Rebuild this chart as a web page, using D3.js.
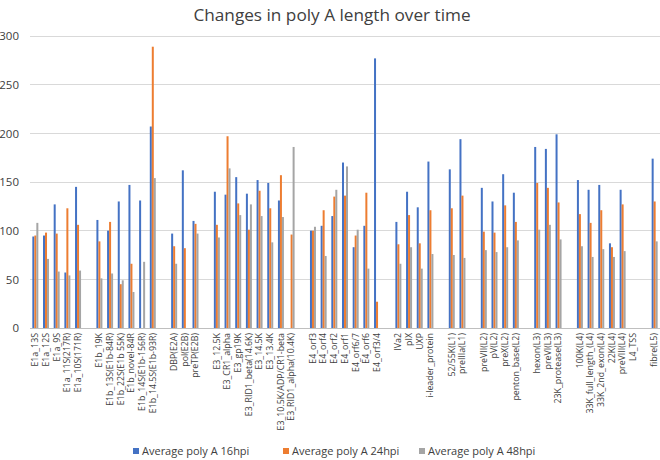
<!DOCTYPE html>
<html><head><meta charset="utf-8">
<script src="https://cdn.jsdelivr.net/npm/d3@7"></script>
<style>body{margin:0;background:#fff}svg{display:block}text{font-family:"Open Sans","Noto Sans",sans-serif}</style>
</head><body><svg id="c" width="660" height="460"></svg>
<script>
const categories = ["E1a_13S","E1a_12S","E1a_9S","E1a_11S(217R)","E1a_10S(171R)","",
"E1b_19K","E1b_13S(E1b-84R)","E1b_22S(E1b 55K)","E1b_novel-84R","E1b_14S(E1b-156R)","E1b_14.5S(E1b-93R)","",
"DBP(E2A)","pol(E2B)","preTP(E2B)","",
"E3_12.5K","E3_CR1_alpha","E3_gp19K","E3_RID1_beta(14.6K)","E3_14.5K","E3_13.4K","E3_10.5K/ADP/CR1-beta","E3_RID1_alpha(10.4K)","",
"E4_orf3","E4_orf4","E4_orf2","E4_orf1","E4_orf6/7","E4_orf6","E4_orf3/4","",
"IVa2","pIX","UXP","i-leader_protein","",
"52/55K(L1)","preIIIa(L1)","",
"preVII(L2)","pV(L2)","preX(L2)","penton_base(L2)","",
"hexon(L3)","preVI(L3)","23K_protease(L3)","",
"100K(L4)","33K_full_length_(L4)","33K_2nd_exon(L4)","22K(L4)","preVIII(L4)","L4_TSS","",
"fibre(L5)"];
const seriesNames = ["Average poly A  16hpi","Average poly A 24hpi","Average poly A 48hpi"];
const hpi16 = [94,95,127,57,145,null, 111,100,130,147,131,207,null, 97,162,110,null,
 140,137,155,138,152,149,131,null,null, 100,105,115,170,83,105,277,null,
 109,140,124,171,null, 163,194,null, 144,130,158,139,null, 186,184,199,null,
 152,142,147,87,142,null,null, 174];
const hpi24 = [95,98,97,123,106,null, 89,109,45,66,null,289,null, 84,82,107,null,
 106,197,128,101,141,123,157,96,null, 100,121,135,136,95,139,27,null,
 86,116,87,121,null, 123,136,null, 99,98,126,109,null, 149,144,129,null,
 117,108,121,83,127,null,null, 130];
const hpi48 = [108,71,58,54,59,null, 51,56,49,37,68,154,null, 66,null,97,null,
 93,164,116,127,115,88,114,186,null, 104,74,142,166,101,61,null,null,
 66,83,61,76,null, 75,72,null, 80,78,83,90,null, 101,106,91,null,
 84,73,81,73,79,null,null, 89];
const yTicks = [0,50,100,150,200,250,300];
const colors = ["#4472C4","#ED7D31","#A5A5A5"];

const svg = d3.select("#c");
const keys = categories.map((c,i)=>i);
const x = d3.scaleBand().domain(keys).range([30,660]).padding(0);
const y = d3.scaleLinear().domain([0,300]).range([328,36]);
const inner = d3.scaleBand().domain([0,1,2]).range([-3,3]);

svg.append("text").attr("x",332).attr("y",21).attr("text-anchor","middle")
  .attr("font-size",17.2).attr("fill","#404040").text("Changes in poly A length over time");

const grid = svg.append("g");
grid.selectAll("line").data(yTicks).join("line")
  .attr("x1",30).attr("x2",660).attr("y1",d=>y(d)).attr("y2",d=>y(d))
  .attr("stroke",d=>d===0?"#bfbfbf":"#d9d9d9").attr("stroke-width",1).attr("shape-rendering","crispEdges");

const yAxis = svg.append("g").attr("transform","translate(30,0)")
  .call(d3.axisLeft(y).tickValues(yTicks).tickSize(0).tickPadding(11));
yAxis.select(".domain").remove();
yAxis.selectAll("text").attr("font-size",11.5).attr("fill","#404040").attr("font-family","'Open Sans',sans-serif");

const xAxis = svg.append("g").attr("transform","translate(0,328)")
  .call(d3.axisBottom(x).tickSize(0).tickFormat(i=>categories[i]));
xAxis.select(".domain").remove();
xAxis.selectAll("text").attr("font-size",8.8).attr("fill","#404040")
  .attr("transform","rotate(-90)").attr("text-anchor","end")
  .attr("x",-5).attr("y",0).attr("dy","0.32em").attr("font-family","'Open Sans',sans-serif");

const all = [hpi16,hpi24,hpi48];
all.forEach((arr,s)=>{
  svg.append("g").selectAll("rect").data(arr.map((v,i)=>({v,i})).filter(d=>d.v!=null)).join("rect")
    .attr("x",d=>x(d.i)+x.bandwidth()/2+inner(s))
    .attr("width",inner.bandwidth())
    .attr("y",d=>y(d.v)).attr("height",d=>y(0)-y(d.v))
    .attr("fill",colors[s]);
});

const legX = [133,283,419];
const leg = svg.append("g");
seriesNames.forEach((n,s)=>{
  leg.append("rect").attr("x",legX[s]).attr("y",448).attr("width",6).attr("height",6).attr("fill",colors[s]);
  leg.append("text").attr("x",legX[s]+9).attr("y",455).attr("font-size",11).attr("fill","#404040").text(n);
});
</script></body></html>
